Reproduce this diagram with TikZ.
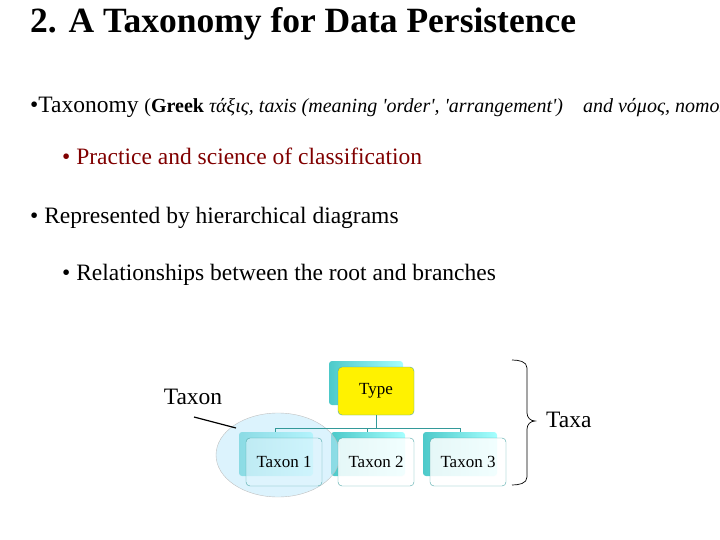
\documentclass[tikz,border=0pt]{standalone}
\usepackage{fontspec}
\setmainfont{Liberation Serif}
\usetikzlibrary{positioning}
\usetikzlibrary{calc}
\begin{document}
\begin{tikzpicture}[x=1pt,y=-1pt,
        every node/.style={inner sep=0pt},
        shade box/.style={left color=teal!60!cyan!70, right color=cyan!35, rounded corners=3pt, minimum width=74pt, minimum height=44pt},
        front box/.style={draw=teal!70, fill=white, rounded corners=4pt, minimum width=76pt, minimum height=48pt, font=\fontsize{17}{18}\selectfont},
        link/.style={draw=teal!80, line width=0.6pt}]
    \useasboundingbox (0,0) rectangle (720,540);
    % text
    \node[anchor=base west, font=\bfseries\fontsize{35.5}{38}\selectfont] (title) at (30,33) {2. A Taxonomy for Data Persistence};
    \node[anchor=base west, font=\fontsize{23.5}{26}\selectfont] (l1) at (30,113) {•Taxonomy {\fontsize{20}{22}\selectfont (\textbf{Greek} \textit{τάξις, taxis (meaning \textquotesingle order\textquotesingle, \textquotesingle arrangement\textquotesingle)\quad and νόμος, nomos}}};
    \node[anchor=base west, font=\fontsize{23.5}{26}\selectfont, text=red!50!black] (l2) at (62,165) {• Practice and science of classification};
    \node[anchor=base west, font=\fontsize{23.5}{26}\selectfont] (l3) at (30,223) {• Represented by hierarchical diagrams};
    \node[anchor=base west, font=\fontsize{23.5}{26}\selectfont] (l4) at (62,280) {• Relationships between the root and branches};
    % diagram
    \node[shade box] (s0) at (366,383) {};
    \node[shade box] (s1) at (276,454) {};
    \node[shade box] (s2) at (368,454) {};
    \node[shade box] (s3) at (460,454) {};
    \fill[cyan!25, opacity=0.55] (278,455) ellipse (62 and 42);
    \draw[gray!50] (278,455) ellipse (62 and 42);
    \node[front box, fill=yellow] (type) at (376,391) {Type};
    \node[front box, fill=cyan!12, fill opacity=0.6, text opacity=1] (t1) at (284,462) {Taxon 1};
    \node[front box, fill=white, fill opacity=0.85, text opacity=1] (t2) at (376,462) {Taxon 2};
    \node[front box, fill=white, fill opacity=0.85, text opacity=1] (t3) at (468,462) {Taxon 3};
    \coordinate (mid) at (376,428);
    \draw[link] (type.south) -- (mid);
    \draw[link] (275,428) -- (460,428);
    \draw[link] (275,428) -- (275,432);
    \draw[link] (367,428) -- (367,432);
    \draw[link] (460,428) -- (460,432);
    \node[font=\fontsize{23.5}{26}\selectfont] (taxon) at (193,397) {Taxon};
    \coordinate (ptr) at (236,428);
    \draw[line width=1.2pt] (194,417) -- (ptr);
    % brace
    \coordinate (btop) at (512,360);
    \coordinate (bbot) at (512,485);
    \draw[line width=0.7pt] (btop) to[out=0,in=90] (527,368) -- (527,413) to[out=-90,in=180] (535,421) to[out=180,in=90] (527,429) -- (527,477) to[out=-90,in=0] (bbot);
    \node[anchor=west, font=\fontsize{23.5}{26}\selectfont] (taxa) at (546,420) {Taxa};
\end{tikzpicture}
\end{document}
